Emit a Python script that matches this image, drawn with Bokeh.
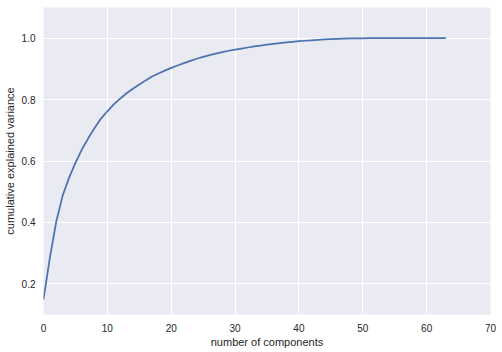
from bokeh.plotting import figure
from bokeh.models import Range1d, FixedTicker, NumeralTickFormatter
from bokeh.embed import file_html
from bokeh.resources import INLINE

n_components = list(range(64))
cumulative_variance = [
    0.1489, 0.2851, 0.4030, 0.4871, 0.5450, 0.5941, 0.6373, 0.6739, 0.7074, 0.7382,
    0.7619, 0.7847, 0.8029, 0.8206, 0.8353, 0.8494, 0.8626, 0.8751, 0.8852, 0.8943,
    0.9032, 0.9112, 0.9188, 0.9261, 0.9330, 0.9390, 0.9447, 0.9499, 0.9548, 0.9591,
    0.9628, 0.9663, 0.9697, 0.9730, 0.9761, 0.9790, 0.9816, 0.9839, 0.9861, 0.9882,
    0.9901, 0.9917, 0.9932, 0.9946, 0.9958, 0.9969, 0.9978, 0.9987, 0.9992, 0.9996,
    0.9998, 0.99995, 0.99997, 0.99998, 0.99999, 0.99999, 1.0, 1.0, 1.0, 1.0,
    1.0, 1.0, 1.0, 1.0,
]
x_ticks = [0, 10, 20, 30, 40, 50, 60, 70]
y_ticks = [0.2, 0.4, 0.6, 0.8, 1.0]

FONT = "Liberation Sans"
TXT = "#262626"

p = figure(
    width=502, height=352,
    output_backend="svg", toolbar_location=None,
    x_range=Range1d(0, 70), y_range=Range1d(0.1, 1.1),
    min_border_left=43, min_border_right=12, min_border_top=7, min_border_bottom=38,
    background_fill_color="#EAEAF2", border_fill_color="white",
)
p.outline_line_color = None

p.line(n_components, cumulative_variance, line_color="#4C72B0", line_width=1.75)

for ax in (p.xaxis, p.yaxis):
    ax.axis_line_color = None
    ax.major_tick_line_color = None
    ax.minor_tick_line_color = None
    ax.major_tick_out = 0
    ax.major_tick_in = 0
    ax.minor_tick_out = 0
    ax.minor_tick_in = 0
    ax.major_label_text_font = FONT
    ax.major_label_text_font_size = "10px"
    ax.major_label_text_color = TXT
    ax.axis_label_text_font = FONT
    ax.axis_label_text_font_size = "11px"
    ax.axis_label_text_font_style = "normal"
    ax.axis_label_text_color = TXT

p.xaxis.ticker = FixedTicker(ticks=x_ticks)
p.yaxis.ticker = FixedTicker(ticks=y_ticks)
p.yaxis.formatter = NumeralTickFormatter(format="0.0")
p.xaxis.axis_label = "number of components"
p.yaxis.axis_label = "cumulative explained variance"
p.xaxis.major_label_standoff = 9
p.yaxis.major_label_standoff = 8
p.xaxis.axis_label_standoff = 1
p.yaxis.axis_label_standoff = 3

p.xgrid.ticker = FixedTicker(ticks=x_ticks)
p.ygrid.ticker = FixedTicker(ticks=y_ticks)
p.grid.grid_line_color = "white"
p.grid.grid_line_width = 1

open("out.html", "w").write(file_html(p, INLINE))
